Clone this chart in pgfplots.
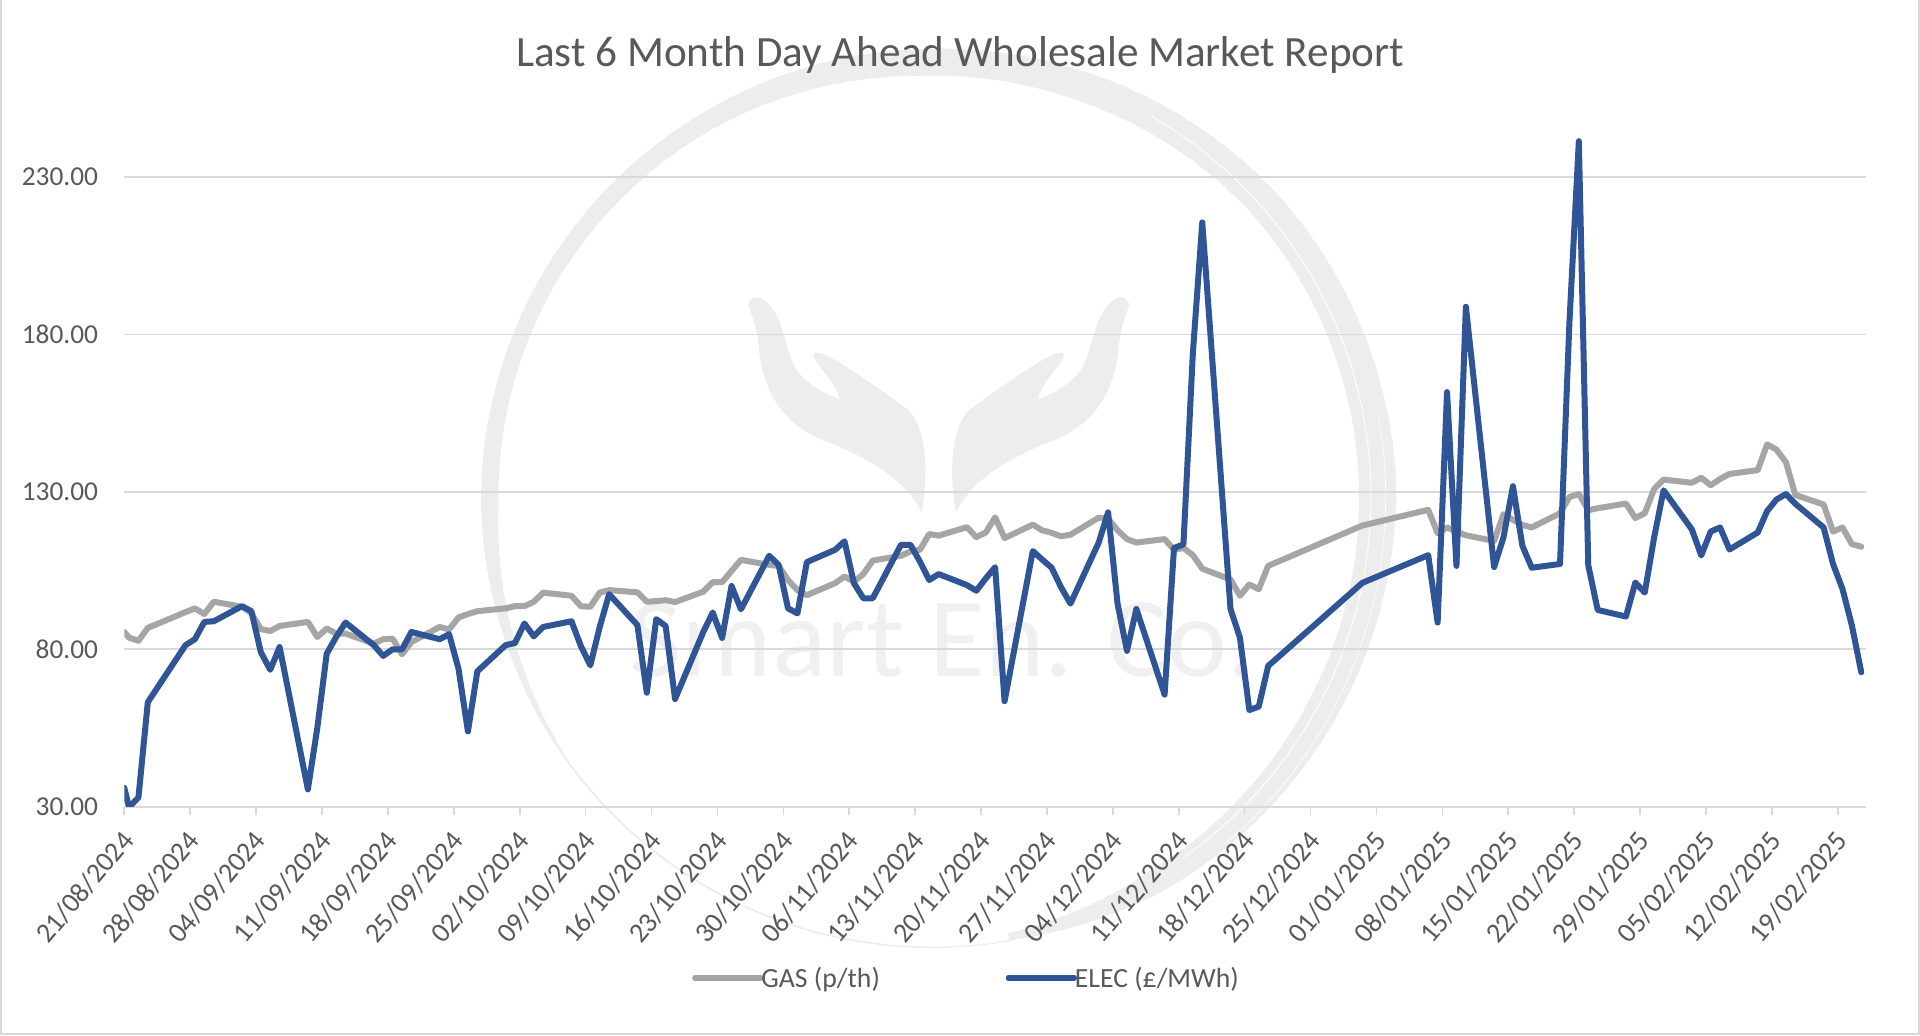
\documentclass[border=0pt]{standalone}
\usepackage{pgfplots}
\usepackage{pgfplotstable}
\pgfplotsset{compat=1.18}
\usepackage{fontspec}
\setmainfont{Carlito}
\definecolor{gasc}{HTML}{A5A5A5}
\definecolor{elecc}{HTML}{2F5597}
\definecolor{gridc}{HTML}{D9D9D9}
\definecolor{txtc}{HTML}{595959}
\definecolor{wm}{HTML}{EDEDED}
\pgfplotstableread{
d gas elec
0 85.5 36.0
0.5 83.7 29.9
1.5 82.7 32.9
2.5 86.8 63.2
6.5 91.8 81.3
7.5 93.0 83.2
8.5 91.2 88.7
9.5 95.1 88.9
12.5 93.5 93.7
13.5 91.5 92.1
14.5 86.4 79.1
15.5 85.8 73.5
16.5 87.4 80.7
19.5 88.7 35.5
20.5 83.9 55.0
21.5 86.6 78.6
22.5 85.0 83.9
23.5 85.0 88.5
26.5 81.8 81.3
27.5 83.2 77.9
28.5 83.4 80.0
29.5 78.4 80.0
30.5 82.3 85.5
33.5 87.1 83.2
34.5 86.3 84.8
35.5 90.1 73.8
36.5 91.2 53.9
37.5 92.1 73.0
40.5 93.0 81.3
41.5 93.7 82.0
42.5 93.7 88.2
43.5 95.1 84.1
44.5 98.0 87.1
47.5 97.0 88.9
48.5 93.7 81.0
49.5 93.5 74.9
50.5 98.0 87.1
51.5 98.8 97.5
54.5 98.1 87.7
55.5 95.1 66.2
56.5 95.3 89.6
57.5 95.6 87.4
58.5 95.0 64.2
61.5 98.3 85.5
62.5 101.3 91.7
63.5 101.3 83.6
64.5 104.9 100.1
65.5 108.4 92.7
68.5 106.8 109.7
69.5 106.5 106.8
70.5 102.0 93.0
71.5 98.8 91.4
72.5 97.2 107.7
75.5 101.0 111.6
76.5 103.1 114.3
77.5 101.5 101.0
78.5 103.9 96.2
79.5 108.2 96.2
82.5 109.7 113.2
83.5 111.1 113.2
84.5 111.6 107.9
85.5 116.6 102.0
86.5 116.1 103.9
89.5 118.8 100.4
90.5 115.6 98.6
91.5 117.1 102.5
92.5 121.9 106.1
93.5 115.3 63.5
96.5 119.6 111.2
97.5 117.8 108.5
98.5 117.0 105.9
99.5 115.9 99.7
100.5 116.4 94.5
103.5 121.8 113.9
104.5 121.5 123.5
105.5 117.8 94.5
106.5 115.0 79.5
107.5 113.9 92.8
110.5 115.0 65.6
111.5 111.6 112.2
112.5 112.2 113.3
113.5 109.9 174.0
114.5 105.6 215.6
117.5 102.2 92.8
118.5 97.0 83.7
119.5 100.6 60.7
120.5 99.1 61.8
121.5 106.5 74.7
131.5 119.3 101.1
138.5 124.3 109.9
139.5 116.9 88.5
140.5 118.7 161.7
141.5 117.4 106.5
142.5 116.2 188.8
145.5 114.4 106.1
146.5 122.9 115.6
147.5 121.1 131.8
148.5 119.5 112.9
149.5 118.7 105.9
152.5 123.2 107.1
153.5 128.4 183.9
154.5 129.3 241.4
155.5 124.2 106.7
156.5 124.8 92.5
159.5 126.3 90.4
160.5 121.7 101.2
161.5 123.2 98.0
162.5 130.9 115.6
163.5 133.9 130.5
166.5 132.9 118.1
167.5 134.5 109.8
168.5 132.1 117.4
169.5 134.1 118.7
170.5 135.7 111.7
173.5 136.9 117.1
174.5 145.1 123.9
175.5 143.4 127.6
176.5 139.4 129.3
177.5 129.0 126.2
180.5 126.0 118.7
181.5 117.4 107.1
182.5 118.7 99.2
183.5 113.4 87.6
184.5 112.6 72.7
}\mydata
\newcommand{\handpath}{
 (483,485) .. controls (490,465) and (505,470) .. (520,490)
 .. controls (545,525) and (540,580) .. (570,610)
 .. controls (590,630) and (610,640) .. (627,647)
 .. controls (620,615) and (590,590) .. (585,570)
 .. controls (590,555) and (640,590) .. (735,665)
 .. controls (765,700) and (765,780) .. (755,840)
 .. controls (735,790) and (680,750) .. (610,720)
 .. controls (530,690) and (505,620) .. (500,560)
 .. controls (498,530) and (490,505) .. (483,485) -- cycle}
% tapered ring piece: angle from, to; radius from, to; width from, to
\newcommand{\ringseg}[6]{%
 \foreach \i in {0,...,11}{%
  \pgfmathsetmacro{\t}{\i/12}%
  \pgfmathsetmacro{\aa}{#1+(#2-#1)*\t}%
  \pgfmathsetmacro{\ab}{\aa+(#2-#1)/12+0.3}%
  \pgfmathsetmacro{\rr}{#3+(#4-#3)*\t}%
  \pgfmathsetmacro{\ww}{#5+(#6-#5)*\t}%
  \draw[wm,line width=\ww pt] (605pt,232.3pt) ++(\aa:\rr pt) arc (\aa:\ab:\rr pt);
 }}
\begin{document}
\begin{tikzpicture}
\path[use as bounding box] (-93.225pt,-171.225pt) rectangle (1346.775pt,605.025pt);
% background watermark
\ringseg{-80}{-60}{335}{334}{6}{18}
\ringseg{-60}{-30}{334}{334}{18}{24}
\ringseg{-30}{0}{334}{335}{24}{28}
\ringseg{0}{40}{335}{333}{28}{24}
\ringseg{40}{70}{333}{328}{24}{22}
\ringseg{70}{90}{328}{326}{22}{20}
\ringseg{90}{120}{326}{328}{20}{14}
\ringseg{120}{150}{328}{330}{14}{12}
\ringseg{150}{180}{330}{331}{12}{13}
\ringseg{180}{200}{331}{334}{13}{6}
\ringseg{200}{215}{334}{337}{6}{1.5}
\ringseg{215}{280}{337}{338}{1.5}{1}
\draw[white,line width=0.7pt] (605pt,232.3pt) ++(-55:330pt) arc (-55:60:330pt);
\draw[white,line width=0.5pt] (605pt,232.3pt) ++(-50:341pt) arc (-50:10:341pt);
\begin{scope}[wm]
 \begin{scope}[shift={(236.775pt,590.025pt)},x=0.4783pt,y=-0.4401pt]
  \fill \handpath;
 \end{scope}
 \begin{scope}[shift={(984.9pt,590.025pt)},x=-0.4783pt,y=-0.4401pt]
  \fill \handpath;
 \end{scope}
 \node[anchor=base west,inner sep=0pt,text=black!6,font=\fontsize{85}{85}\selectfont] at (379pt,98pt) {Smart En. Co.};
\end{scope}
\draw[gridc,line width=1.5pt] (-92.5pt,-170.5pt) rectangle (1346pt,606pt);
\begin{axis}[
 scale only axis,
 width=1306.275pt,
 height=519.45pt,
 xmin=0, xmax=185,
 ymin=30, ymax=250,
 axis x line=bottom,
 axis y line=left,
 axis line style={-},
 x axis line style={gridc,line width=1.5pt},
 y axis line style={draw=none},
 xtick={0,7,...,182},
 xticklabels={21/08/2024,28/08/2024,04/09/2024,11/09/2024,18/09/2024,25/09/2024,02/10/2024,09/10/2024,16/10/2024,23/10/2024,30/10/2024,06/11/2024,13/11/2024,20/11/2024,27/11/2024,04/12/2024,11/12/2024,18/12/2024,25/12/2024,01/01/2025,08/01/2025,15/01/2025,22/01/2025,29/01/2025,05/02/2025,12/02/2025,19/02/2025},
 ytick={30,80,130,180,230},
 tick align=outside,
 major tick length=6.5pt,
 xtick style={gridc,line width=1.2pt},
 ytick style={draw=none},
 ymajorgrids,
 major grid style={gridc,line width=1.3pt},
 xticklabel style={rotate=50,anchor=north east,font=\fontsize{21}{21}\selectfont,text=txtc,inner sep=1pt,yshift=-3pt,xshift=-8.5pt},
 yticklabel style={font=\fontsize{20.5}{20.5}\selectfont,text=txtc,/pgf/number format/fixed,/pgf/number format/fixed zerofill,/pgf/number format/precision=2,/pgf/number format/assume math mode=true,inner sep=0pt,xshift=-13pt},
 legend columns=2,
 legend cell align=left,
 legend style={at={(0.326,-0.2473)},anchor=west,draw=none,fill=none,inner sep=0pt,font=\fontsize{20.8}{20.8}\selectfont,text=txtc,
   nodes={inner xsep=1.1pt},
   /tikz/every even column/.append style={column sep=93.3pt}},
 legend image code/.code={\useasboundingbox (0pt,0pt) rectangle (46.2pt,0pt);\draw[#1,line width=4.5pt,line cap=round] (0pt,0pt) -- (49pt,0pt);},
 clip=true,
]
\addplot[gasc,line width=4.5pt,line join=round,line cap=round,no marks] table[x=d,y=gas] {\mydata};
\addlegendentry{GAS (p/th)}
\addplot[elecc,line width=4.5pt,line join=round,line cap=round,no marks] table[x=d,y=elec] {\mydata};
\addlegendentry{ELEC (£/MWh)}
\end{axis}
\node[anchor=center,font=\fontsize{32.4}{32.4}\selectfont,text=txtc] at (626.8pt,564pt) {Last 6 Month Day Ahead Wholesale Market Report};
\end{tikzpicture}
\end{document}
